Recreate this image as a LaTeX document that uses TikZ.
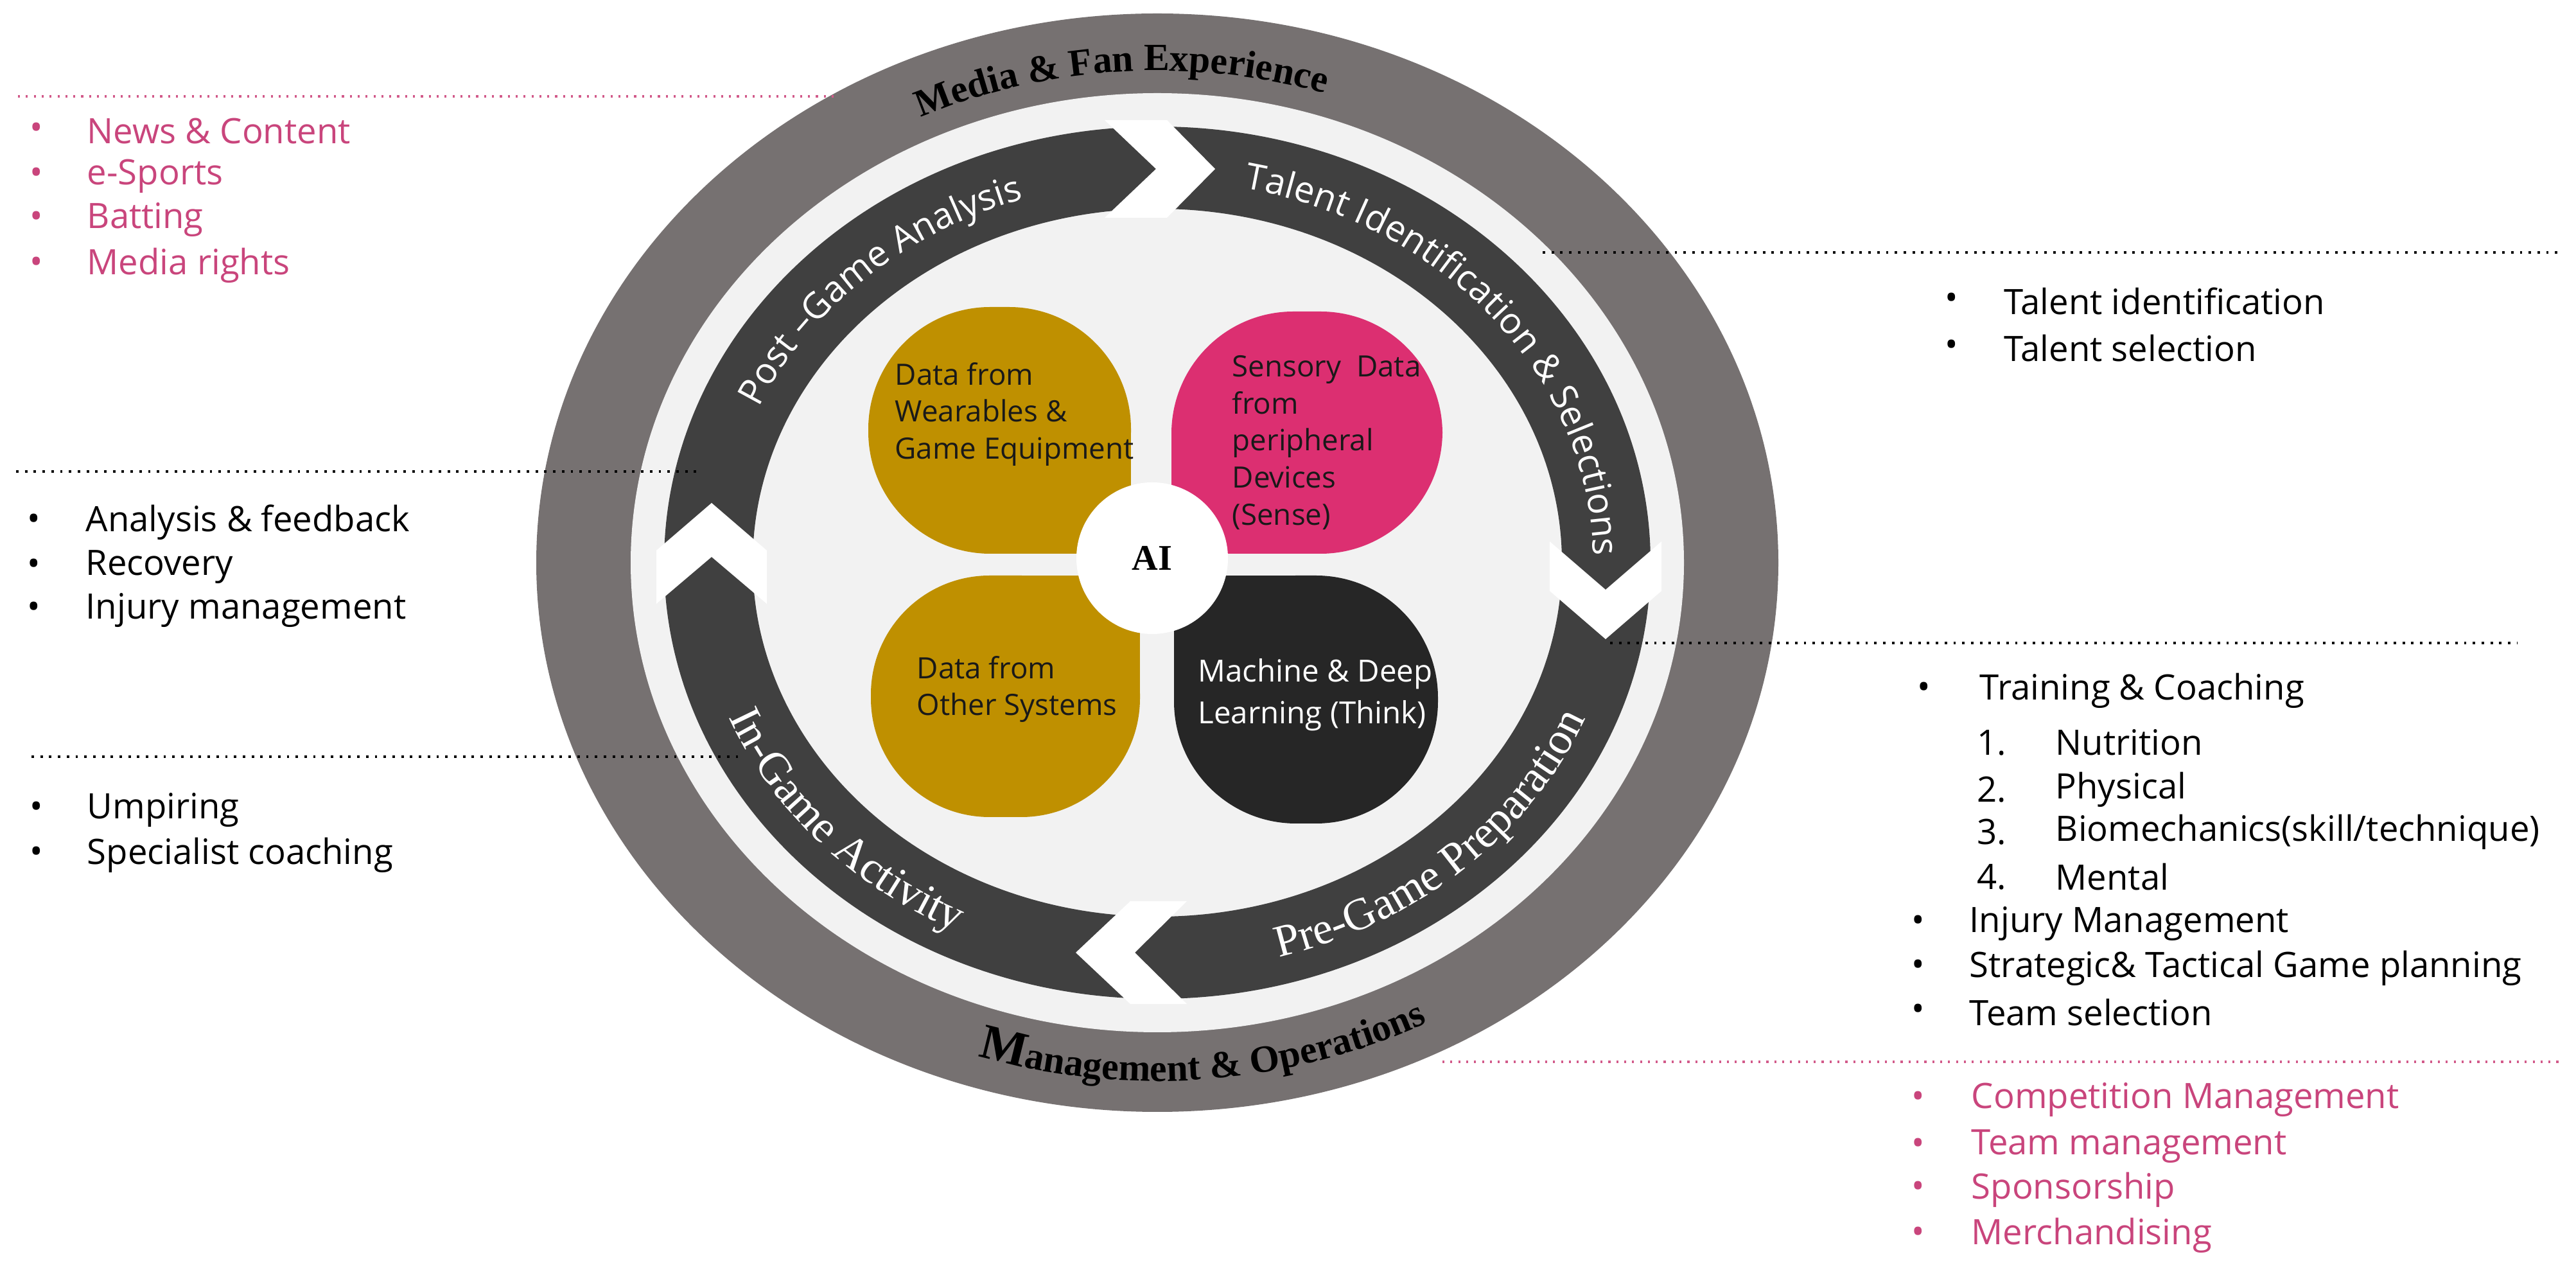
\documentclass[tikz,border=0pt]{standalone}
\usepackage{fontspec}
\setmainfont{Liberation Serif}
\setsansfont{Open Sans}
\usetikzlibrary{decorations.text}
\definecolor{outergray}{HTML}{767171}
\definecolor{lightfill}{HTML}{F2F2F2}
\definecolor{ringdark}{HTML}{404040}
\definecolor{gold}{HTML}{BF9000}
\definecolor{petalpink}{HTML}{DC2F71}
\definecolor{petalblack}{HTML}{262626}
\definecolor{pinktxt}{HTML}{C9457C}
\definecolor{pinkdot}{HTML}{D25A8A}
\newcommand{\sidefnt}{\sffamily\fontsize{15.5}{19}\selectfont}
\newcommand{\petalfnt}{\sffamily\fontsize{13}{16.4}\selectfont}
\newcommand{\ringsans}{\sffamily\fontsize{16}{16}\selectfont\color{white}}
\newcommand{\ringserif}{\rmfamily\fontsize{20}{20}\selectfont\color{white}}
\newcommand{\outerfnt}{\rmfamily\bfseries\fontsize{17}{17}\selectfont\color{black}}
\newcommand{\bigMfnt}{\rmfamily\bfseries\fontsize{22}{22}\selectfont\color{black}}
\begin{document}
\begin{tikzpicture}[
  side/.style={anchor=west, inner sep=0pt, font=\sidefnt, text=black},
  pside/.style={side, text=pinktxt},
  bdot/.style={line width=1.1pt, dash pattern=on 1.1pt off 2.8pt, black},
  pdot/.style={line width=0.9pt, dash pattern=on 0.9pt off 2.6pt, pinkdot},
  chev/.style={fill=white, draw=none},
  ptxt/.style={anchor=west, inner sep=0pt, align=left, font=\petalfnt, text=black!90}
]
\useasboundingbox (0,0) rectangle (40.11,19.74);
\coordinate (C) at (18.02,10.98);

% rings
\fill[outergray] (C) ellipse [x radius=9.67cm, y radius=8.55cm];
\fill[lightfill] (C) ellipse [x radius=8.20cm, y radius=7.31cm];
\fill[ringdark, even odd rule] (C) ellipse [x radius=7.68cm, y radius=6.79cm]
      (C) ellipse [x radius=6.30cm, y radius=5.51cm];

% chevron gaps
\fill[chev] (17.20,17.87) -- (18.00,17.11) -- (17.20,16.35) -- (18.17,16.35) -- (18.92,17.11) -- (18.17,17.87) -- cycle;
\fill[chev] (24.13,11.31) -- (25.00,10.56) -- (25.87,11.31) -- (25.87,10.54) -- (25.00,9.79) -- (24.13,10.54) -- cycle;
\fill[chev] (10.22,11.17) -- (11.08,11.91) -- (11.94,11.17) -- (11.94,10.34) -- (11.08,11.07) -- (10.22,10.34) -- cycle;
\fill[chev] (17.60,5.71) -- (16.75,4.91) -- (17.60,4.11) -- (18.48,4.11) -- (17.67,4.91) -- (18.48,5.71) -- cycle;

% ring texts
\path[decorate, decoration={text along path, text align=center,
  text={|\ringsans|Post {–}Game Analysis}}]
  ([shift={(175:6.79cm and 5.95cm)}]C) arc[start angle=175, end angle=91, x radius=6.79cm, y radius=5.95cm];
\path[decorate, decoration={text along path, text align=center,
  text={|\ringsans|Talent Identification {\&} Selections}}]
  ([shift={(90:6.79cm and 5.95cm)}]C) arc[start angle=90, end angle=-12, x radius=6.79cm, y radius=5.95cm];
\path[decorate, decoration={text along path, text align=center,
  text={|\ringserif|Pre-Game Preparation}}]
  ([shift={(-100:7.21cm and 6.37cm)}]C) arc[start angle=-100, end angle=6, x radius=7.21cm, y radius=6.37cm];
\path[decorate, decoration={text along path, text align=center,
  text={|\ringserif|In-Game Activity}}]
  ([shift={(170:7.21cm and 6.37cm)}]C) arc[start angle=170, end angle=273, x radius=7.21cm, y radius=6.37cm];
\path[decorate, decoration={text along path, text align=center,
  text={|\outerfnt|Media {\&} Fan Experience}}]
  ([shift={(140:8.63cm and 7.66cm)}]C) arc[start angle=140, end angle=48, x radius=8.63cm, y radius=7.66cm];
\path[decorate, decoration={text along path, text align=center,
  text={|\bigMfnt|M|\outerfnt|anagement {\&} Operations}}]
  ([shift={(230:9.10cm and 8.07cm)}]C) arc[start angle=230, end angle=320, x radius=9.10cm, y radius=8.07cm];

% petals
\fill[gold, rounded corners=1.9cm] (13.52,11.12) rectangle (17.61,14.96);
\fill[gold] (15.56,11.12) rectangle (17.61,13.04);
\fill[petalpink, rounded corners=1.9cm] (18.24,11.12) rectangle (22.46,14.89);
\fill[petalpink] (18.24,11.12) rectangle (20.35,13.00);
\fill[gold, rounded corners=1.85cm] (13.56,7.02) rectangle (17.75,10.78);
\fill[gold] (15.65,8.90) rectangle (17.75,10.78);
\fill[petalblack, rounded corners=1.9cm] (18.28,6.92) rectangle (22.39,10.78);
\fill[petalblack] (18.28,8.85) rectangle (20.33,10.78);

\node[circle, fill=white, minimum size=2.36cm, inner sep=0pt,
      font=\rmfamily\bfseries\fontsize{16}{16}\selectfont] (ai) at (17.94,11.05) {AI};

\node[ptxt] (p1) at (13.93,13.29) {Data from\\Wearables \&\\Game Equipment};
\node[ptxt] (p2) at (19.18,12.85) {Sensory\ \ Data\\from\\peripheral\\Devices\\(Sense)};
\node[ptxt] (p3) at (14.27,9.01) {Data from\\Other Systems};
\node[ptxt, text=white, font=\sffamily\fontsize{13.5}{18.4}\selectfont] (p4) at (18.65,8.92) {Machine \& Deep\\Learning (Think)};

% dotted leader lines
\coordinate (d1a) at (0.28,18.24); \coordinate (d1b) at (13.02,18.24);
\draw[pdot] (d1a) -- (d1b);
\coordinate (d2a) at (0.25,12.40); \coordinate (d2b) at (10.84,12.40);
\draw[bdot] (d2a) -- (d2b);
\coordinate (d3a) at (0.49,7.96); \coordinate (d3b) at (11.51,7.96);
\draw[bdot] (d3a) -- (d3b);
\coordinate (d4a) at (24.02,15.81); \coordinate (d4b) at (39.85,15.81);
\draw[bdot] (d4a) -- (d4b);
\coordinate (d5a) at (25.07,9.73); \coordinate (d5b) at (39.19,9.73);
\draw[bdot] (d5a) -- (d5b);
\coordinate (d6a) at (22.46,3.21); \coordinate (d6b) at (39.85,3.21);
\draw[pdot] (d6a) -- (d6b);

% left lists
\node[pside] (lb1) at (0.46,17.70) {•}; \node[pside] (l1) at (1.35,17.70) {News \& Content};
\node[pside] (lb2) at (0.46,17.00) {•}; \node[pside] (l2) at (1.35,17.00) {e-Sports};
\node[pside] (lb3) at (0.46,16.32) {•}; \node[pside] (l3) at (1.35,16.32) {Batting};
\node[pside] (lb4) at (0.46,15.61) {•}; \node[pside] (l4) at (1.35,15.61) {Media rights};

\node[side] (lb5) at (0.42,11.61) {•}; \node[side] (l5) at (1.33,11.61) {Analysis \& feedback};
\node[side] (lb6) at (0.42,10.91) {•}; \node[side] (l6) at (1.33,10.91) {Recovery};
\node[side] (lb7) at (0.42,10.24) {•}; \node[side] (l7) at (1.33,10.24) {Injury management};

\node[side] (lb8) at (0.46,7.13) {•}; \node[side] (l8) at (1.35,7.13) {Umpiring};
\node[side] (lb9) at (0.46,6.43) {•}; \node[side] (l9) at (1.35,6.43) {Specialist coaching};

% right lists
\node[side] (rb1) at (30.28,15.05) {•}; \node[side] (r1) at (31.20,15.05) {Talent identification};
\node[side] (rb2) at (30.28,14.32) {•}; \node[side] (r2) at (31.20,14.32) {Talent selection};

\node[side] (rb3) at (29.85,8.99) {•}; \node[side] (r3) at (30.82,8.99) {Training \& Coaching};
\node[side] (rn1) at (30.78,8.18) {1.}; \node[side] (r4) at (32.00,8.18) {Nutrition};
\node[side] (rn2) at (30.78,7.45) {2.}; \node[side] (r5) at (32.00,7.45) {Physical};
\node[side] (rn3) at (30.78,6.79) {3.}; \node[side] (r6) at (32.00,6.79) {Biomechanics(skill/technique)};
\node[side] (rn4) at (30.78,6.09) {4.}; \node[side] (r7) at (32.00,6.09) {Mental};
\node[side] (rb4) at (29.76,5.36) {•}; \node[side] (r8) at (30.66,5.36) {Injury Management};
\node[side] (rb5) at (29.76,4.67) {•}; \node[side] (r9) at (30.66,4.67) {Strategic\& Tactical Game planning};
\node[side] (rb6) at (29.76,3.98) {•}; \node[side] (r10) at (30.66,3.98) {Team selection};

\node[pside] (rb7) at (29.76,2.62) {•}; \node[pside] (r11) at (30.69,2.62) {Competition Management};
\node[pside] (rb8) at (29.76,1.89) {•}; \node[pside] (r12) at (30.69,1.89) {Team management};
\node[pside] (rb9) at (29.76,1.22) {•}; \node[pside] (r13) at (30.69,1.22) {Sponsorship};
\node[pside] (rb10) at (29.76,0.51) {•}; \node[pside] (r14) at (30.69,0.51) {Merchandising};
\end{tikzpicture}
\end{document}
